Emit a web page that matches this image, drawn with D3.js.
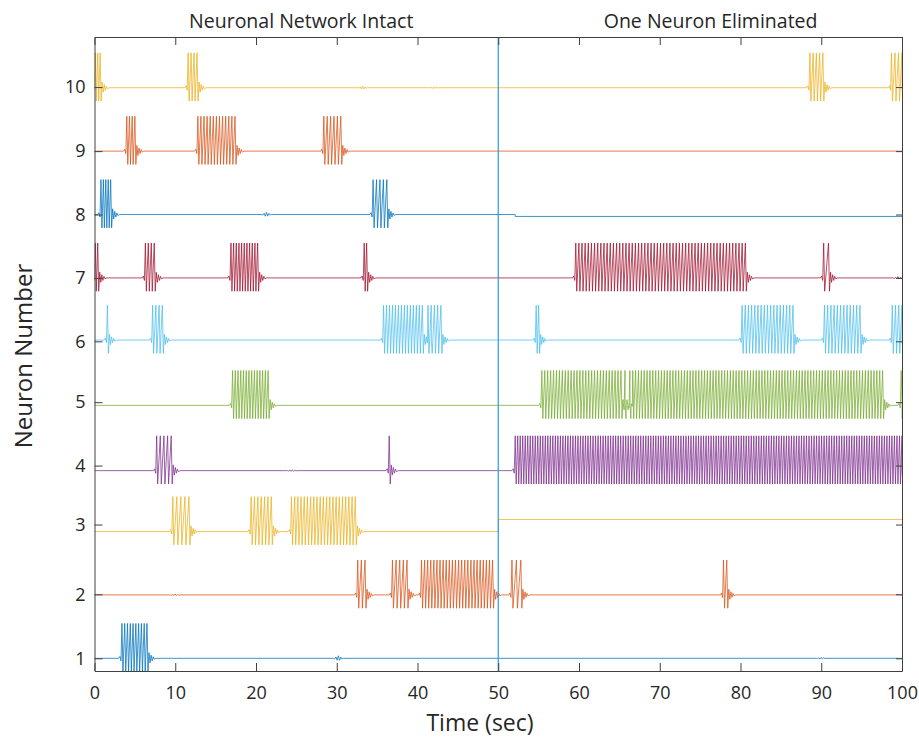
<!DOCTYPE html>
<html>
<head>
<meta charset="utf-8">
<script src="https://cdn.jsdelivr.net/npm/d3@7"></script>
<style>
  html, body { margin: 0; padding: 0; background: #fff; }
  svg { display: block; }
  text { font-family: "Open Sans", "Noto Sans", sans-serif; fill: #262626; }
</style>
</head>
<body>
<svg id="chart" width="919" height="740"></svg>
<script>
// ---- data -------------------------------------------------------------
const neuronIds = [1, 2, 3, 4, 5, 6, 7, 8, 9, 10];
const traceColors = ["#0072BD", "#D95319", "#EDB120", "#7E2F8E", "#77AC30",
                     "#4DBEEE", "#A2142F", "#0072BD", "#D95319", "#EDB120"];
// resting level of each trace (in neuron-number units)
const baselines = [1.0, 2.0, 3.0, 3.96, 4.99, 6.02, 7.0, 8.0, 9.0, 10.0];

// bursts per neuron: [start (s), end (s), number of spikes]
const bursts1  = [[3.4, 6.5, 10]];
const bursts2  = [[32.6, 33.5, 3], [36.9, 38.7, 5], [40.5, 49.3, 24], [51.7, 52.8, 3], [77.9, 78.3, 2]];
const bursts3  = [[9.7, 11.7, 5], [19.4, 21.9, 7], [24.4, 32.3, 21]];
const bursts4  = [[7.7, 9.5, 5], [36.5, 36.5, 1], [52.1, 100, 155]];
const bursts5  = [[17.1, 21.5, 14], [55.4, 65.2, 28], [65.7, 65.7, 1], [66.3, 97.6, 89], [99.9, 99.9, 1]];
const bursts6  = [[1.6, 1.6, 1], [7.2, 8.4, 4], [35.8, 40.6, 14], [41.3, 42.9, 5], [54.7, 55.0, 2],
                  [80.2, 86.5, 17], [90.4, 94.8, 12], [98.8, 100, 4]];
const bursts7  = [[0.1, 0.4, 2], [6.3, 7.4, 4], [16.9, 20.2, 11], [33.4, 33.7, 2], [59.6, 80.6, 55], [90.3, 90.9, 2]];
const bursts8  = [[0.8, 2.0, 5], [34.5, 36.2, 5]];
const bursts9  = [[4.0, 5.0, 4], [12.8, 17.4, 13], [28.4, 30.5, 6]];
const bursts10 = [[0.1, 0.7, 3], [11.6, 12.7, 4], [88.6, 90.2, 5], [98.7, 100, 4]];
const allBursts = [bursts1, bursts2, bursts3, bursts4, bursts5, bursts6, bursts7, bursts8, bursts9, bursts10];

// small sub-threshold ripples: [neuron, time (s), amplitude]
const ripples = [[1, 30.2, 0.04], [8, 21.3, 0.035], [10, 33.2, 0.025], [10, 42.0, 0.015],
                 [4, 24.5, 0.015], [2, 10.0, 0.015], [7, 99.5, 0.02], [1, 90.0, 0.015]];

// step changes of the resting level: [neuron, time (s), new level]
const levelShifts = [[3, 50.0, 3.19], [8, 52.1, 7.97]];
// neurons that go silent after their level shift
const silencedAfterShift = [3];

// y-axis tick positions and their labels
const yTickPos = [1.0, 2.01, 3.11, 4.04, 5.04, 6.0, 7.0, 8.0, 9.0, 10.01];
const yTickLabels = ["1", "2", "3", "4", "5", "6", "7", "8", "9", "10"];
const xTicks = [0, 10, 20, 30, 40, 50, 60, 70, 80, 90, 100];

const eliminationTime = 50;
const panelTitles = ["Neuronal Network Intact", "One Neuron Eliminated"];
const panelTitleX = [25.6, 76.3];

// ---- layout -----------------------------------------------------------
const svg = d3.select("#chart");
const margin = { left: 94.5, right: 902, top: 37, bottom: 671 };
const x = d3.scaleLinear().domain([0, 100]).range([margin.left, margin.right]);
const y = d3.scaleLinear().domain([0.8, 10.8]).range([margin.bottom, margin.top]);

const spikeUp = 0.55, spikeDown = 0.21;

svg.append("defs").append("clipPath").attr("id", "plotClip")
  .append("rect")
  .attr("x", margin.left).attr("y", margin.top)
  .attr("width", margin.right - margin.left)
  .attr("height", margin.bottom - margin.top);

// level of a neuron at a given time
function levelAt(idx, t) {
  let lv = baselines[idx];
  levelShifts.forEach(s => { if (s[0] === idx + 1 && t >= s[1]) lv = s[2]; });
  return lv;
}

// build the voltage trace of one neuron from its bursts
function buildTrace(idx) {
  const id = idx + 1;
  const events = [];
  allBursts[idx].forEach(b => events.push({ type: "burst", t: b[0], b }));
  ripples.filter(r => r[0] === id).forEach(r => events.push({ type: "ripple", t: r[1], a: r[2] }));
  events.sort((a, b) => a.t - b.t);

  const shift = levelShifts.find(s => s[0] === id);
  const silentFrom = (shift && silencedAfterShift.includes(id)) ? shift[1] : Infinity;

  const pts = [[0, levelAt(idx, 0)]];
  events.forEach(ev => {
    if (ev.t >= silentFrom) return;
    if (ev.type === "ripple") {
      const b = levelAt(idx, ev.t);
      pts.push([ev.t - 0.6, b]);
      for (let k = 0; k <= 6; k++) {
        const env = 1 - Math.abs(k - 3) / 4;
        pts.push([ev.t - 0.45 + k * 0.15, b + (k % 2 ? 1 : -1) * ev.a * env]);
      }
      pts.push([ev.t + 0.6, b]);
      return;
    }
    const [s, e, n] = ev.b;
    const b = levelAt(idx, s);
    const step = n > 1 ? (e - s) / (n - 1) : 0.3;
    const d = Math.min(step * 0.5, 0.12);
    // short lead-in
    pts.push([s - 0.4, b]);
    pts.push([s - 0.25, b + 0.03]);
    pts.push([s - 0.12, b - 0.04]);
    for (let i = 0; i < n; i++) {
      const ts = s + i * step;
      pts.push([ts, b + spikeUp]);
      pts.push([ts + d, b - spikeDown]);
    }
    // damped ringing after the burst
    const tEnd = (n > 1 ? e : s) + d;
    const ring = [0.09, -0.07, 0.05, -0.04, 0.025, -0.015];
    ring.forEach((a, k) => pts.push([tEnd + 0.13 * (k + 1), b + a]));
    pts.push([tEnd + 1.0, b]);
  });
  // level shifts
  levelShifts.filter(s => s[0] === id).forEach(s => {
    pts.push([s[1], levelAt(idx, s[1] - 0.001)]);
    pts.push([s[1], s[2]]);
  });
  pts.push([100, levelAt(idx, 100)]);
  pts.sort((a, b) => a[0] - b[0]);
  return pts;
}

const line = d3.line().x(d => x(d[0])).y(d => y(d[1]));

const traces = svg.append("g").attr("clip-path", "url(#plotClip)");
neuronIds.forEach((id, idx) => {
  traces.append("path")
    .datum(buildTrace(idx))
    .attr("d", line)
    .attr("fill", "none")
    .attr("stroke", traceColors[idx])
    .attr("stroke-width", 0.9)
    .attr("stroke-opacity", 0.85)
    .attr("stroke-linejoin", "miter");
});

// separator at the moment a neuron is removed
svg.append("line")
  .attr("x1", x(eliminationTime)).attr("x2", x(eliminationTime))
  .attr("y1", y(0.8)).attr("y2", y(10.8))
  .attr("stroke", "#2a9be2").attr("stroke-width", 1.2);

// ---- axes -------------------------------------------------------------
const axisColor = "#404040";
function styleAxis(g) {
  g.selectAll("path.domain").attr("stroke", axisColor).attr("stroke-width", 1);
  g.selectAll(".tick line").attr("stroke", axisColor).attr("stroke-width", 1);
  g.selectAll(".tick text").attr("fill", "#262626")
    .style("font-family", '"Open Sans", "Noto Sans", sans-serif');
}

svg.append("g")
  .attr("transform", `translate(0,${margin.bottom})`)
  .call(d3.axisBottom(x).tickValues(xTicks).tickFormat(d3.format("d"))
        .tickSize(-8).tickSizeOuter(0).tickPadding(15))
  .call(g => g.selectAll("text").style("font-size", "18px"))
  .call(styleAxis);

svg.append("g")
  .attr("transform", `translate(0,${margin.top})`)
  .call(d3.axisTop(x).tickValues(xTicks).tickFormat("")
        .tickSize(-8).tickSizeOuter(0))
  .call(styleAxis);

svg.append("g")
  .attr("transform", `translate(${margin.left},0)`)
  .call(d3.axisLeft(y).tickValues(yTickPos).tickFormat((d, i) => yTickLabels[i])
        .tickSize(-8).tickSizeOuter(0).tickPadding(9))
  .call(g => g.selectAll("text").style("font-size", "18px"))
  .call(styleAxis);

svg.append("g")
  .attr("transform", `translate(${margin.right},0)`)
  .call(d3.axisRight(y).tickValues(yTickPos).tickFormat("")
        .tickSize(-6).tickSizeOuter(0))
  .call(styleAxis);

// ---- labels -----------------------------------------------------------
panelTitles.forEach((t, i) => {
  svg.append("text")
    .attr("x", x(panelTitleX[i])).attr("y", 28)
    .attr("text-anchor", "middle")
    .style("font-size", "19.5px")
    .text(t);
});

svg.append("text")
  .attr("x", 480).attr("y", 731)
  .attr("text-anchor", "middle")
  .style("font-size", "23px")
  .text("Time (sec)");

svg.append("text")
  .attr("transform", "translate(32,356) rotate(-90)")
  .attr("text-anchor", "middle")
  .style("font-size", "24px")
  .text("Neuron Number");
</script>
</body>
</html>
